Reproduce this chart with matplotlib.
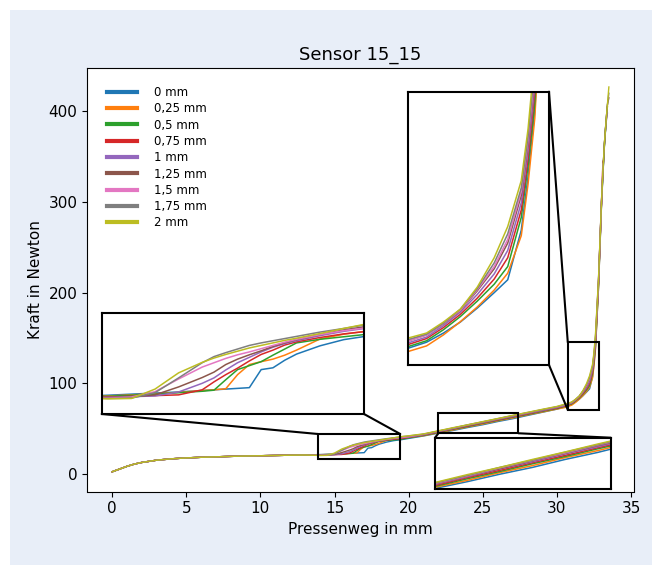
import matplotlib
matplotlib.use("Agg")
import matplotlib.pyplot as plt
from matplotlib.patches import Rectangle, ConnectionPatch

# Pressenweg-Stützstellen (mm)
x_head = [0, 0.5, 1, 1.5, 2, 3, 4, 5, 6, 7, 8, 9, 10, 11, 12, 13]
x_step = [14, 14.5, 15, 15.5, 16, 16.25, 16.5, 16.75, 17, 17.25, 17.5, 17.75, 18, 18.5, 19, 19.5, 20]
x_mid = [21, 22, 23, 24, 25, 26, 27, 28, 29, 30]
x_ramp = [30.5, 31, 31.25, 31.5, 31.75, 32, 32.2, 32.4, 32.5, 32.6, 32.8, 33.0, 33.1, 33.2, 33.3, 33.4, 33.5]
x_mm = x_head + x_step + x_mid + x_ramp

# gemeinsamer Anfang aller Messungen (N)
f_head = [2.5, 5.5, 8.5, 11.0, 12.8, 15.3, 16.8, 17.8, 18.5, 19.0, 19.5, 19.9, 20.2, 20.5, 20.8, 21.0]

# Kraftverlauf je Versatz (N), ab 14 mm
f_0 = [21.5, 21.8, 22.1, 22.4, 22.8, 23.0, 23.2, 23.4, 23.6, 28.6, 29.1, 31.2, 32.9, 35.2, 36.9, 37.9, 39.3,
       42.0, 45.1, 48.1, 51.4, 54.4, 57.9, 61.0, 64.6, 68.1, 71.6,
       74.0, 77.0, 79.5, 82.5, 86.3, 90.5, 94.0, 107.5, 122.0, 140.0, 205.0, 295.0, 330.0, 362.0, 385.0]
f_025 = [21.3, 21.6, 21.9, 22.3, 22.8, 23.0, 23.3, 27.2, 30.0, 30.8, 31.5, 32.6, 34.0, 37.1, 38.4, 39.3, 40.4,
         42.3, 45.6, 48.7, 52.1, 55.2, 58.7, 61.8, 65.3, 68.4, 71.7,
         73.2, 76.0, 79.0, 82.6, 86.6, 91.2, 95.8, 106.0, 120.0, 138.0, 205.0, 296.0, 332.0, 363.0, 386.0, 405.0]
f_05 = [21.2, 21.5, 21.8, 22.2, 22.6, 22.9, 25.8, 28.6, 29.7, 30.8, 32.6, 34.3, 36.0, 37.0, 37.7, 38.4, 40.0,
        42.7, 46.0, 49.4, 52.6, 56.0, 59.2, 62.6, 65.8, 69.1, 72.3,
        74.5, 77.4, 80.4, 84.0, 88.2, 92.8, 97.6, 111.0, 125.0, 142.0, 208.0, 297.0, 332.0, 363.0, 386.0, 405.0]
f_075 = [21.0, 21.2, 21.4, 21.6, 23.0, 25.2, 27.2, 29.0, 31.0, 32.8, 34.0, 35.4, 36.3, 37.5, 38.5, 39.2, 40.5,
         43.1, 46.4, 49.9, 53.1, 56.5, 59.7, 63.1, 66.3, 69.7, 72.8,
         75.0, 78.0, 81.0, 84.6, 89.0, 94.2, 100.0, 113.0, 127.0, 145.0, 210.0, 298.0, 345.0]
f_1 = [20.9, 21.1, 21.3, 22.4, 24.8, 26.3, 28.5, 30.5, 32.0, 33.5, 34.8, 35.8, 36.6, 38.0, 39.2, 40.1, 41.0,
       43.4, 46.9, 50.3, 53.7, 56.9, 60.3, 63.5, 66.9, 70.0, 73.3,
       75.5, 78.4, 81.5, 85.2, 90.0, 95.6, 102.0, 115.0, 129.0, 147.0, 211.0, 298.0, 333.0, 364.0, 386.0, 398.0]
f_125 = [20.8, 21.0, 21.6, 23.8, 26.4, 27.9, 30.0, 31.5, 32.7, 33.8, 35.0, 36.0, 36.9, 38.3, 39.6, 40.6, 41.5,
         43.7, 47.1, 50.5, 53.8, 57.3, 60.6, 64.0, 67.2, 70.6, 73.8,
         76.0, 79.0, 82.0, 85.6, 91.0, 97.0, 104.0, 117.0, 131.0, 149.0, 212.0, 299.0, 334.0, 364.0, 387.0, 407.0, 415.0]
f_15 = [20.7, 21.0, 22.5, 26.0, 29.3, 30.5, 31.7, 32.7, 33.5, 34.4, 35.3, 36.2, 37.0, 38.3, 39.4, 40.2, 41.2,
        43.8, 47.3, 50.6, 54.2, 57.5, 60.8, 64.3, 67.5, 70.9, 74.0,
        76.0, 79.0, 82.1, 85.7, 91.3, 97.6, 105.0, 118.0, 132.0, 150.0, 213.0, 299.0, 342.0]
f_175 = [20.6, 20.7, 22.2, 26.3, 30.5, 32.2, 33.3, 34.3, 35.3, 36.0, 36.6, 37.2, 37.8, 39.0, 40.0, 41.1, 42.0,
         44.0, 47.5, 50.8, 54.4, 57.6, 61.1, 64.4, 67.8, 71.0, 74.3,
         76.5, 79.2, 82.2, 86.0, 91.6, 98.6, 106.5, 119.0, 133.0, 152.0, 214.0, 300.0, 335.0, 365.0, 387.0, 407.0, 420.0]
f_2 = [20.5, 20.6, 23.2, 27.7, 30.6, 31.8, 32.8, 33.7, 34.6, 35.3, 36.0, 36.7, 37.3, 38.6, 40.0, 41.3, 42.2,
       44.3, 47.7, 51.2, 54.4, 57.9, 61.2, 64.7, 68.0, 71.4, 74.6,
       77.0, 79.5, 82.5, 86.0, 92.0, 100.0, 108.5, 121.0, 135.0, 155.0, 215.0, 300.0, 335.0, 365.0, 387.0, 407.0, 427.0]

labels = ["0 mm", "0,25 mm", "0,5 mm", "0,75 mm", "1 mm", "1,25 mm", "1,5 mm", "1,75 mm", "2 mm"]
curves = [f_0, f_025, f_05, f_075, f_1, f_125, f_15, f_175, f_2]

# Zoom-Bereiche: (x0, x1, y0, y1)
zoom_top = (30.73, 32.81, 70.8, 145.2)
zoom_step = (13.87, 19.43, 16.3, 44.2)
zoom_mid = (22.01, 27.4, 45.0, 67.5)

W, H = 652, 565
fig = plt.figure(figsize=(W / 100, H / 100), dpi=100)
fig.patches.append(Rectangle((10.4 / W, 0), 1, 1 - 9.5 / H, transform=fig.transFigure,
                             fc="#e8eef8", ec="none", zorder=-1))


def px_axes(left, top, right, bottom):
    return fig.add_axes([left / W, 1 - bottom / H, (right - left) / W, (bottom - top) / H])


ax = px_axes(87.3, 67.7, 633.7, 491.5)
for f, lab in zip(curves, labels):
    y = f_head + f
    ax.plot(x_mm[:len(y)], y, lw=1.0, label=lab)

ax.set_xlim(-1.675, 35.175)
ax.set_ylim(-19.25, 448.25)
ax.set_title("Sensor 15_15", fontsize=13)
ax.set_xlabel("Pressenweg in mm", fontsize=11)
ax.set_ylabel("Kraft in Newton", fontsize=11)
ax.tick_params(labelsize=11)

leg = ax.legend(loc="upper left", bbox_to_anchor=(0.028, 0.968), borderaxespad=0,
                frameon=False, fontsize=8.5, labelspacing=0.28, handlelength=2.5,
                handletextpad=1.45)
for line in leg.get_lines():
    line.set_linewidth(3)


def inset(pos, lims, links):
    ins = px_axes(*pos)
    for f in curves:
        y = f_head + f
        ins.plot(x_mm[:len(y)], y, lw=1.1)
    x0, x1, y0, y1 = lims
    ins.set_xlim(x0, x1)
    ins.set_ylim(y0, y1)
    ins.set_xticks([])
    ins.set_yticks([])
    for s in ins.spines.values():
        s.set_linewidth(1.5)
        s.set_color("k")
    ax.add_patch(Rectangle((x0, y0), x1 - x0, y1 - y0, fill=False, ec="k", lw=1.5, zorder=5))
    for a, b in links:
        con = ConnectionPatch(xyA=a, coordsA=ins.transAxes, xyB=b, coordsB=ax.transData,
                              color="k", lw=1.5)
        fig.add_artist(con)
    return ins


x0, x1, y0, y1 = zoom_top
inset((408.3, 91.7, 549, 365), zoom_top, [((1, 1), (x0, y1)), ((1, 0), (x0, y0))])
x0, x1, y0, y1 = zoom_step
inset((101.7, 313.3, 364, 414), zoom_step, [((0, 0), (x0, y1)), ((1, 0), (x1, y1))])
x0, x1, y0, y1 = zoom_mid
inset((435, 437.7, 610.7, 488.7), zoom_mid, [((0, 1), (x0, y0)), ((1, 1), (x1, y0))])

fig.savefig("out.png", dpi=100)
